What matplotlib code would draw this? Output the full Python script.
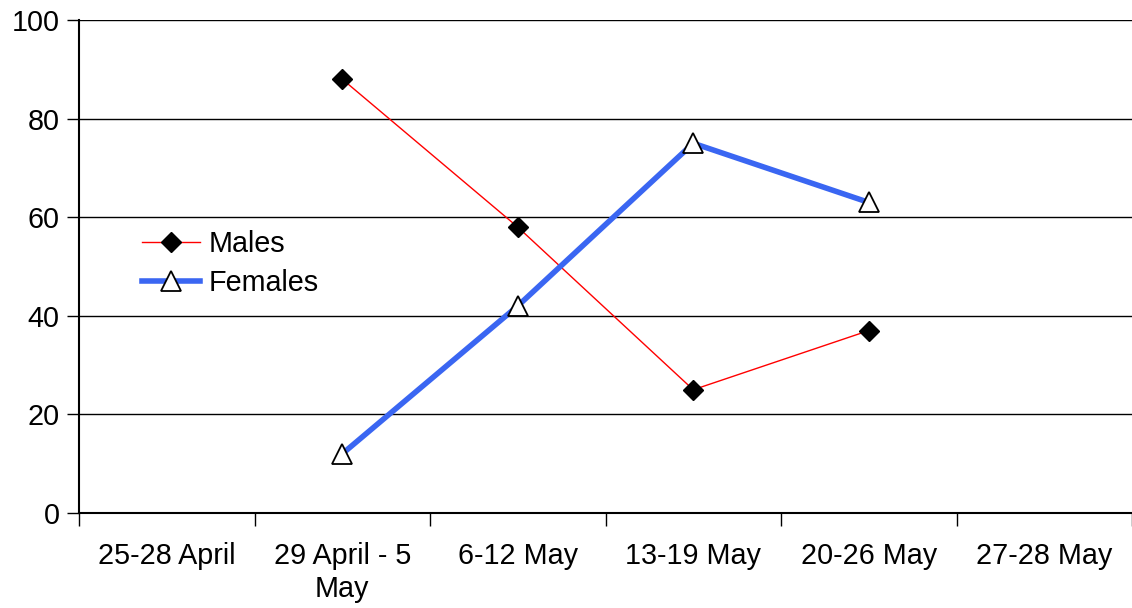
import matplotlib

matplotlib.use("Agg")
import matplotlib.pyplot as plt  # noqa: E402
import numpy as np  # noqa: E402

periods = ["25-28 April", "29 April - 5\nMay", "6-12 May", "13-19 May",
           "20-26 May", "27-28 May"]
sampled = [1, 2, 3, 4]          # periods with catches
males = [88, 58, 25, 37]
females = [12, 42, 75, 63]
yticks = [0, 20, 40, 60, 80, 100]

plt.rcParams["font.family"] = ["Liberation Sans", "DejaVu Sans"]
plt.rcParams["font.size"] = 20.7

fig = plt.figure(figsize=(11.32, 6.08), dpi=100)
ax = fig.add_axes([79 / 1132, 1 - 513 / 608, 1 - 79 / 1132, 493 / 608])

ax.plot(sampled, males, color="red", lw=1, marker="D", ms=10.5,
        mfc="black", mec="black", label="Males", zorder=3)
ax.plot(sampled, females, color="#3A66F2", lw=4, marker="^", ms=14,
        mfc="white", mec="black", mew=1.3, label="Females", zorder=3)

ax.set_xlim(-0.5, len(periods) - 0.5)
ax.set_ylim(0, 100)
ax.set_yticks(yticks)
ax.yaxis.grid(True, color="black", lw=1)
ax.set_axisbelow(True)

# boundaries carry the tick marks, labels sit at the category centres
ax.set_xticks(np.arange(len(periods) + 1) - 0.5)
ax.set_xticklabels([])
ax.set_xticks(np.arange(len(periods)), minor=True)
ax.set_xticklabels(periods, minor=True, linespacing=1.2)
ax.tick_params(axis="x", which="major", direction="out", length=9, width=1)
ax.tick_params(axis="x", which="minor", length=0, pad=21)
ax.tick_params(axis="y", direction="out", length=9, width=1, pad=5)

for side in ("top", "right"):
    ax.spines[side].set_visible(False)
for side in ("left", "bottom"):
    ax.spines[side].set_linewidth(1.5)

ax.legend(loc="upper left", bbox_to_anchor=(0.049, 0.597), frameon=False,
          handlelength=2.0, handletextpad=0.3, labelspacing=0.37,
          borderaxespad=0)

fig.savefig("out.png", dpi=100)
